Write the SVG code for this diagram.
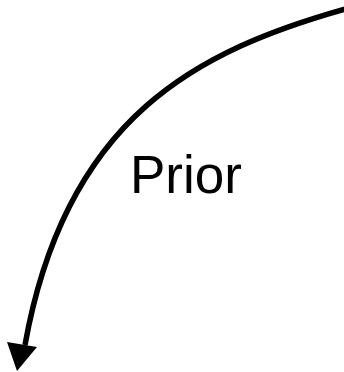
<svg xmlns="http://www.w3.org/2000/svg" width="344" height="372" viewBox="0 0 344 372">
<defs>
<style>
.conn{fill:none;stroke:#000;stroke-width:5.5}
.lbl{font-family:"Liberation Sans",Arial,sans-serif;font-size:53px;fill:#000}
</style>
</defs>
<rect width="344" height="372" fill="#fff"/>
<g id="connectors">
<path class="conn" d="M 345 9 C 200 50, 66 115, 25 345"/>
<polygon points="7,342 37,347 17,371" fill="#000"/>
</g>
<g id="label">
<text class="lbl" x="130" y="193">Prior</text>
</g>
</svg>
